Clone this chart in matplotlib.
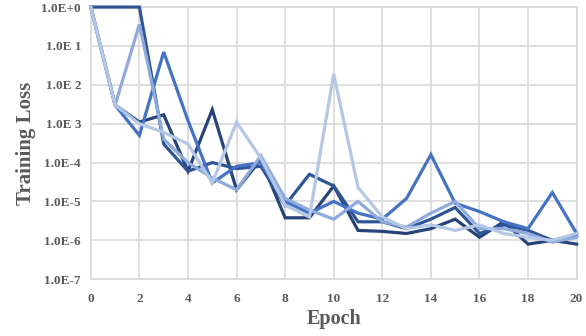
import matplotlib
matplotlib.use("Agg")
import matplotlib.pyplot as plt
from matplotlib.ticker import FixedLocator, FixedFormatter

# training loss per epoch, five runs
epochs = list(range(21))
run_navy = [1.0, 3e-3, 1.1e-3, 1.7e-3, 6e-5, 2.3e-3, 2e-5, 1.2e-4, 3.8e-6, 3.8e-6,
            2.5e-5, 1.8e-6, 1.7e-6, 1.5e-6, 2e-6, 3.5e-6, 1.2e-6, 3e-6, 8e-7, 1e-6, 8e-7]
run_dark = [1.0, 1.0, 1.0, 3e-4, 6e-5, 1e-4, 7e-5, 8e-5, 8e-6, 5e-5,
            2.5e-5, 3e-6, 3e-6, 2e-6, 3.5e-6, 7e-6, 1.5e-6, 2.5e-6, 1.8e-6, 1e-6, 1.3e-6]
run_mid = [1.0, 3e-3, 5e-4, 7e-2, 1.2e-3, 3e-5, 8e-5, 1e-4, 1e-5, 5e-6,
           1e-5, 5e-6, 3.5e-6, 1.2e-5, 1.6e-4, 9e-6, 5.5e-6, 3e-6, 2e-6, 1.7e-5, 1.5e-6]
run_light = [1.0, 3e-3, 0.36, 4e-4, 1e-4, 4e-5, 2e-5, 1.5e-4, 1.2e-5, 6e-6,
             3.5e-6, 1e-5, 3e-6, 2.2e-6, 5e-6, 1e-5, 2e-6, 2e-6, 1.5e-6, 9e-7, 1.2e-6]
run_pale = [1.0, 3e-3, 1e-3, 6e-4, 3e-4, 3e-5, 1.1e-3, 1.3e-4, 8e-6, 4e-6,
            1.9e-2, 2.3e-5, 4e-6, 2e-6, 2.5e-6, 1.8e-6, 2.5e-6, 1.5e-6, 1.2e-6, 1e-6, 1.5e-6]

runs = [run_navy, run_dark, run_mid, run_light, run_pale]
colors = ["#264478", "#2F5597", "#4472C4", "#8FAADC", "#B4C7E7"]

ytick_vals = [1e0, 1e-1, 1e-2, 1e-3, 1e-4, 1e-5, 1e-6, 1e-7]
ytick_labels = ["1.0E+0", "1.0E 1", "1.0E 2", "1.0E 3", "1.0E-4", "1.0E-5", "1.0E-6", "1.0E-7"]
xtick_vals = list(range(0, 21, 2))

grey = "#D9D9D9"
text_col = "#595959"
font = "Liberation Serif"

fig = plt.figure(figsize=(5.86, 3.36), dpi=100)
ax = fig.add_axes([0.155, 0.169, 0.829, 0.81])

for vals, c in zip(runs, colors):
    ax.plot(epochs, vals, color=c, linewidth=2.3, solid_joinstyle="miter", clip_on=False, zorder=3)

ax.set_yscale("log")
ax.set_ylim(1e-7, 1e0)
ax.set_xlim(0, 20)
ax.yaxis.set_major_locator(FixedLocator(ytick_vals))
ax.yaxis.set_major_formatter(FixedFormatter(ytick_labels))
ax.yaxis.set_minor_locator(FixedLocator([]))
ax.set_xticks(xtick_vals)

ax.grid(True, color=grey, linewidth=1.2)
ax.set_axisbelow(True)
for s in ax.spines.values():
    s.set_color(grey)
    s.set_linewidth(1.2)
ax.tick_params(length=0, labelsize=9.5, labelcolor=text_col)
ax.tick_params(axis="x", pad=10)
ax.tick_params(axis="y", pad=7)
for lbl in ax.get_xticklabels() + ax.get_yticklabels():
    lbl.set_fontfamily(font)
    lbl.set_fontweight("bold")

ax.set_xlabel("Epoch", fontsize=14.5, fontweight="bold", family=font, color=text_col, labelpad=3)
ax.set_ylabel("Training Loss", fontsize=15, fontweight="bold", family=font, color=text_col, labelpad=4)

fig.savefig("out.png", dpi=100)
